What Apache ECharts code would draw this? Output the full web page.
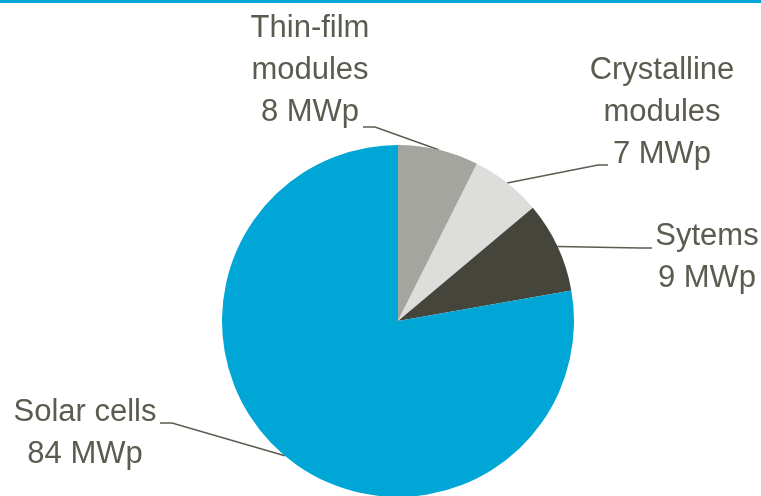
<!DOCTYPE html>
<html>
<head>
<meta charset="utf-8">
<script src="https://cdn.jsdelivr.net/npm/echarts@6/dist/echarts.min.js"></script>
<style>
  html, body { margin: 0; padding: 0; background: #ffffff; }
  #chart { width: 761px; height: 496px; }
</style>
</head>
<body>
<div id="chart"></div>
<script>
// Production capacity by segment, in MWp
const segments = ['Thin-film\nmodules', 'Crystalline\nmodules', 'Sytems', 'Solar cells'];
const capacityMWp = [8, 7, 9, 84];
const unit = 'MWp';

const sliceColors = ['#a5a5a0', '#dddddb', '#45453c', '#00a6d6'];
const textColor = '#5b5b4f';

// Label placement: centre x / top y of each text block, plus the short
// horizontal stub of the leader line next to the text.
const labelSpots = [
  { x: 310, y: 7,   stub: [[375, 127], [363, 127]] },
  { x: 662, y: 49,  stub: [[598, 165], [608, 165]] },
  { x: 707, y: 215, stub: [[640, 248], [652, 248]] },
  { x: 85,  y: 391, stub: [[172, 423], [160, 423]] }
];

const chart = echarts.init(document.getElementById('chart'), null, { renderer: 'canvas' });

chart.setOption({
  animation: false,
  backgroundColor: '#ffffff',
  graphic: [{
    type: 'rect',
    left: 0, top: 0,
    shape: { width: 761, height: 3 },
    style: { fill: '#00a6d6' }
  }],
  series: [{
    type: 'pie',
    center: [398, 321],
    radius: 176,
    startAngle: 90,
    clockwise: true,
    avoidLabelOverlap: false,
    data: segments.map((name, i) => ({
      name: name,
      value: capacityMWp[i],
      itemStyle: { color: sliceColors[i] }
    })),
    label: {
      show: true,
      position: 'outside',
      formatter: p => p.name + '\n' + p.value + ' ' + unit,
      fontFamily: '"Liberation Sans", Arial, sans-serif',
      fontSize: 31,
      lineHeight: 42,
      color: textColor,
      align: 'center'
    },
    labelLine: {
      show: true,
      length: 20,
      length2: 20,
      smooth: false,
      lineStyle: { color: textColor, width: 1.5 }
    },
    labelLayout: function (params) {
      const spot = labelSpots[params.dataIndex];
      const edge = params.labelLinePoints ? params.labelLinePoints[0] : spot.stub[0];
      return {
        x: spot.x,
        y: spot.y,
        align: 'center',
        verticalAlign: 'top',
        labelLinePoints: [edge, spot.stub[0], spot.stub[1]]
      };
    },
    emphasis: { disabled: true }
  }]
});
</script>
</body>
</html>
